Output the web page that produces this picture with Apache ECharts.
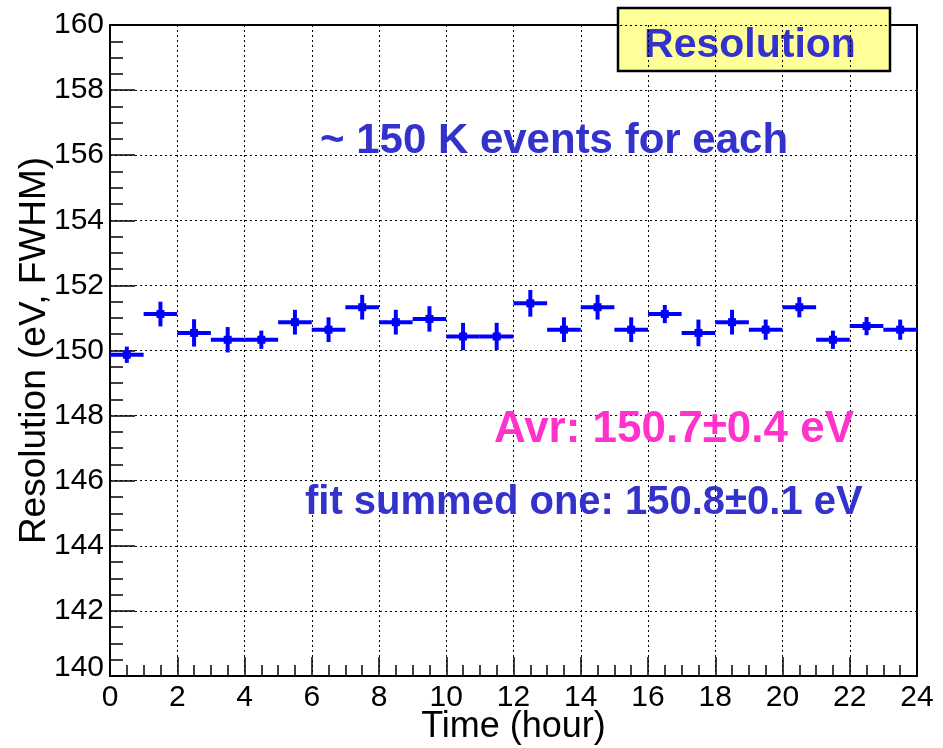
<!DOCTYPE html>
<html>
<head>
<meta charset="utf-8">
<script src="https://cdn.jsdelivr.net/npm/echarts@6/dist/echarts.min.js"></script>
<style>
  html, body { margin: 0; padding: 0; background: #fff; }
  #chart { width: 943px; height: 748px; }
</style>
</head>
<body>
<div id="chart"></div>
<script>
// Hourly energy resolution measurements (one-hour bins, ~150 K events each)
const hourCenters = [0.5, 1.5, 2.5, 3.5, 4.5, 5.5, 6.5, 7.5, 8.5, 9.5, 10.5, 11.5,
                     12.5, 13.5, 14.5, 15.5, 16.5, 17.5, 18.5, 19.5, 20.5, 21.5, 22.5, 23.5];
const hourHalfWidth = [0.5, 0.5, 0.5, 0.5, 0.5, 0.5, 0.5, 0.5, 0.5, 0.5, 0.5, 0.5,
                       0.5, 0.5, 0.5, 0.5, 0.5, 0.5, 0.5, 0.5, 0.5, 0.5, 0.5, 0.5];
const resolutionFWHM = [149.87, 151.12, 150.54, 150.33, 150.33, 150.87, 150.64, 151.33,
                        150.87, 150.97, 150.43, 150.43, 151.45, 150.64, 151.33, 150.64,
                        151.12, 150.54, 150.87, 150.64, 151.33, 150.33, 150.75, 150.64];
const resolutionErr = [0.25, 0.38, 0.42, 0.39, 0.28, 0.38, 0.38, 0.38, 0.38, 0.39, 0.42, 0.42,
                       0.41, 0.38, 0.38, 0.38, 0.28, 0.41, 0.38, 0.31, 0.31, 0.28, 0.28, 0.31];

const xTickLabels = ['0', '2', '4', '6', '8', '10', '12', '14', '16', '18', '20', '22', '24'];
const yTickLabels = ['140', '142', '144', '146', '148', '150', '152', '154', '156', '158', '160'];

const points = hourCenters.map((h, i) => [h, resolutionFWHM[i], hourHalfWidth[i], resolutionErr[i]]);

const FONT = '"Liberation Sans", Arial, Helvetica, sans-serif';
const MARK_BLUE = '#0000ff';
const TEXT_BLUE = '#3333cc';

const chart = echarts.init(document.getElementById('chart'), null, { renderer: 'canvas' });

chart.setOption({
  backgroundColor: '#ffffff',
  animation: false,
  grid: {
    left: 110, right: 26, top: 25, bottom: 72,
    outerBoundsMode: 'none',
    containLabel: false,
    show: true, borderColor: '#000', borderWidth: 2, backgroundColor: 'transparent'
  },
  xAxis: {
    type: 'value',
    min: 0, max: 24, interval: 2,
    name: 'Time (hour)',
    nameLocation: 'middle',
    nameGap: 33,
    nameMoveOverlap: false,
    nameTextStyle: { fontFamily: FONT, fontSize: 36, color: '#000' },
    axisLine: { show: true, onZero: false, lineStyle: { color: '#000', width: 2 } },
    axisTick: { show: true, inside: true, length: 19, lineStyle: { color: '#000', width: 1.5 } },
    minorTick: { show: true, splitNumber: 4, length: 11, lineStyle: { color: '#000', width: 1.5 } },
    splitLine: { show: true, lineStyle: { color: '#000', width: 1, type: [2, 3] } },
    axisLabel: {
      margin: 7, fontFamily: FONT, fontSize: 30, color: '#000',
      formatter: v => xTickLabels[Math.round(v / 2)]
    }
  },
  yAxis: {
    type: 'value',
    min: 140, max: 160, interval: 2,
    name: 'Resolution (eV, FWHM)',
    nameLocation: 'middle',
    nameGap: 57,
    nameMoveOverlap: false,
    nameTextStyle: { fontFamily: FONT, fontSize: 37, color: '#000' },
    axisLine: { show: true, onZero: false, lineStyle: { color: '#000', width: 2 } },
    axisTick: { show: true, inside: true, length: 25, lineStyle: { color: '#000', width: 1.5 } },
    minorTick: { show: true, splitNumber: 4, length: 13, lineStyle: { color: '#000', width: 1.5 } },
    splitLine: { show: true, lineStyle: { color: '#000', width: 1, type: [2, 3] } },
    axisLabel: {
      margin: 6, fontFamily: FONT, fontSize: 30, color: '#000',
      formatter: v => {
        const s = yTickLabels[Math.round((v - 140) / 2)];
        return v === 140 ? '{low|' + s + '}' : s;
      },
      rich: { low: { fontFamily: FONT, fontSize: 30, color: '#000', padding: [0, 0, 16, 0] } }
    }
  },
  series: [{
    type: 'custom',
    data: points,
    z: 5,
    renderItem: function (params, api) {
      const x = api.value(0), y = api.value(1), ex = api.value(2), ey = api.value(3);
      const left = api.coord([x - ex, y]);
      const right = api.coord([x + ex, y]);
      const top = api.coord([x, y + ey]);
      const bottom = api.coord([x, y - ey]);
      const c = api.coord([x, y]);
      const sq = 8;
      const style = { stroke: MARK_BLUE, lineWidth: 4, fill: null };
      return {
        type: 'group',
        children: [
          { type: 'line', shape: { x1: left[0], y1: left[1], x2: right[0], y2: right[1] }, style: style },
          { type: 'line', shape: { x1: top[0], y1: top[1], x2: bottom[0], y2: bottom[1] }, style: style },
          { type: 'rect', shape: { x: c[0] - sq / 2, y: c[1] - sq / 2, width: sq, height: sq }, style: { fill: MARK_BLUE } }
        ]
      };
    }
  }],
  graphic: [
    {
      type: 'text', z: 10, x: 554, y: 141,
      style: {
        text: '~ 150 K events for each',
        font: 'bold 42px ' + FONT, fill: TEXT_BLUE,
        align: 'center', verticalAlign: 'middle'
      }
    },
    {
      type: 'text', z: 10, x: 494, y: 430,
      style: {
        text: 'Avr: 150.7\u00b10.4 eV',
        font: 'bold 44px ' + FONT, fill: '#ff33cc',
        align: 'left', verticalAlign: 'middle'
      }
    },
    {
      type: 'text', z: 10, x: 305, y: 503,
      style: {
        text: 'fit summed one: 150.8\u00b10.1 eV',
        font: 'bold 40px ' + FONT, fill: TEXT_BLUE,
        align: 'left', verticalAlign: 'middle'
      }
    },
    {
      type: 'group', z: 20,
      children: [
        {
          type: 'rect',
          shape: { x: 618, y: 8, width: 272, height: 63 },
          style: { fill: '#ffff99', stroke: '#000', lineWidth: 2.5 }
        },
        {
          type: 'text', x: 750, y: 46,
          style: {
            text: 'Resolution', font: 'bold 41px ' + FONT, fill: TEXT_BLUE,
            align: 'center', verticalAlign: 'middle'
          }
        }
      ]
    }
  ]
});
</script>
</body>
</html>
